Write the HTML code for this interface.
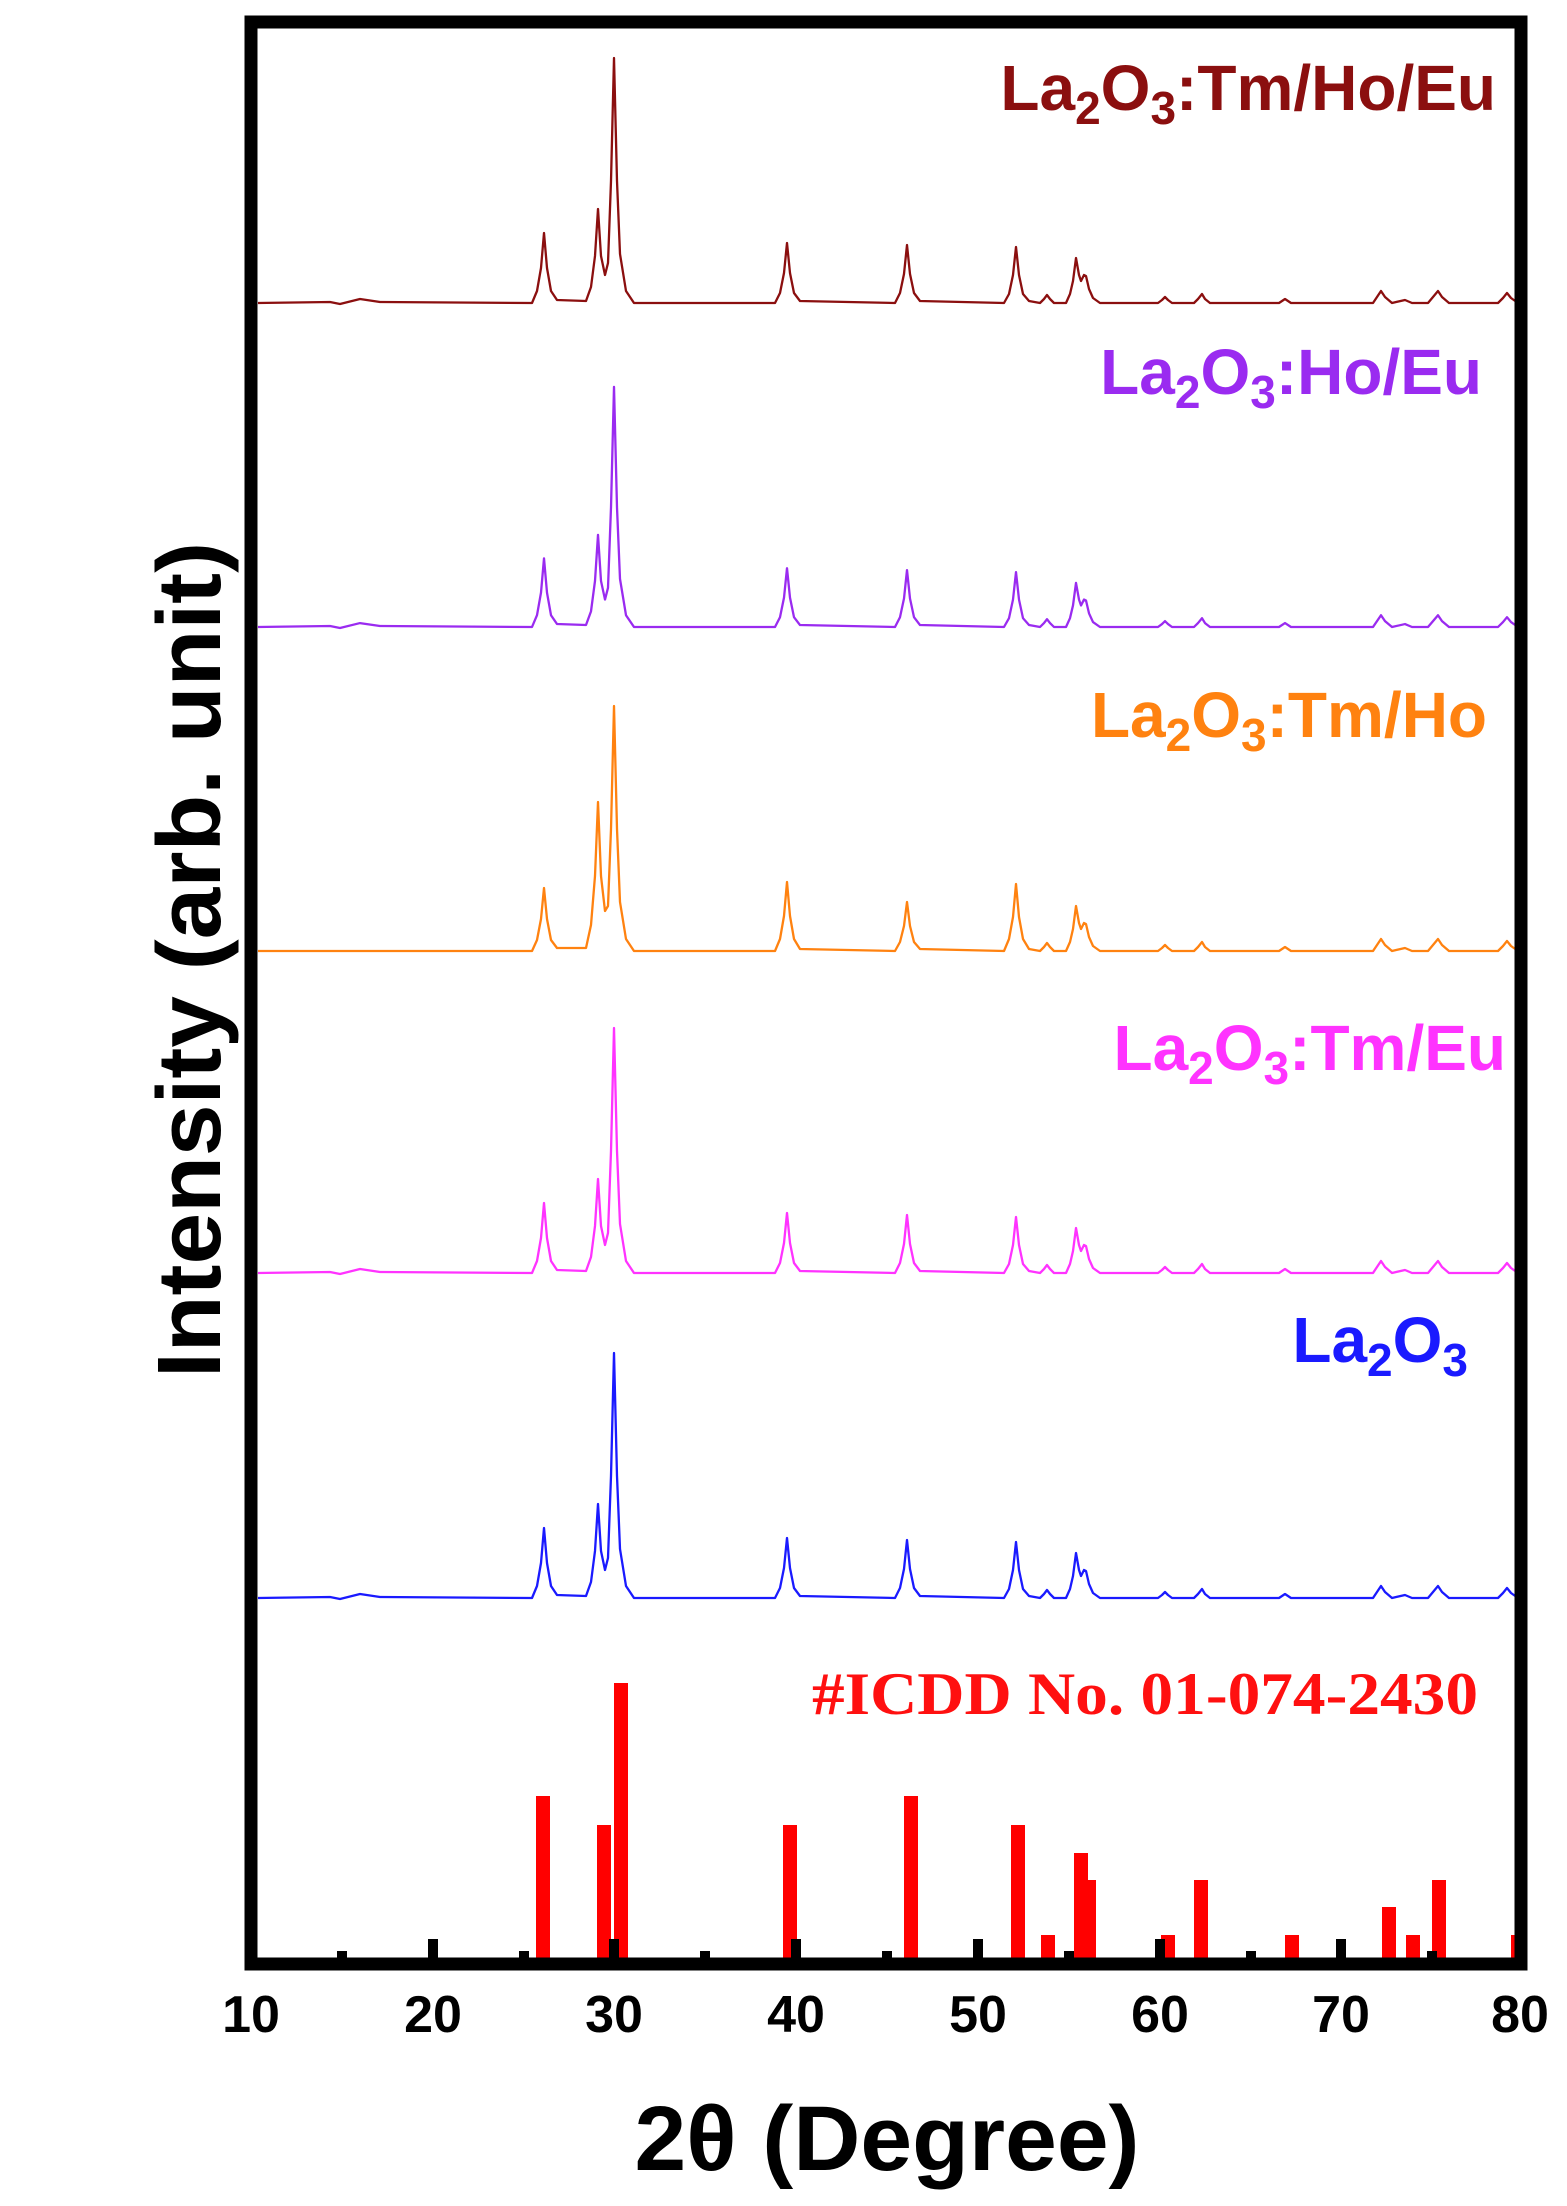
<!DOCTYPE html>
<html><head><meta charset="utf-8"><style>
html,body{margin:0;padding:0;background:#fff;}
svg{display:block;}
</style></head><body>
<svg width="1567" height="2206" viewBox="0 0 1567 2206" xmlns="http://www.w3.org/2000/svg">
<rect width="1567" height="2206" fill="#fff"/>
<defs>
<path id="pA" fill="none" stroke-width="2.3" stroke-linejoin="round" d="M258,0 L330,-1 L340,1 L360,-4 L380,-1 L532,0 L537,-12 L541,-35 L544,-70 L547,-35 L551,-12 L557,-3 L586,-2 L591,-16 L595,-47 L598,-94 L601,-47 L605,-28 L608,-40 L611,-122 L614,-245 L617,-122 L620,-49 L626,-12 L634,0 L775,0 L780,-10 L784,-30 L787,-60 L790,-30 L794,-10 L800,-2 L895,0 L900,-10 L904,-29 L907,-58 L910,-29 L914,-10 L920,-2 L1004,0 L1009,-9 L1013,-28 L1016,-56 L1019,-28 L1023,-9 L1029,-2 L1040,0 L1044,-4 L1047,-8 L1050,-4 L1054,0 L1066,0 L1070,-9 L1073,-22 L1076,-45 L1079,-28 L1081,-22 L1084,-28 L1086,-27 L1089,-14 L1093,-5 L1100,0 L1158,0 L1162,-3 L1165,-6 L1168,-3 L1172,0 L1194,0 L1198,-4 L1202,-9 L1205,-4 L1210,0 L1279,0 L1285,-4 L1291,0 L1373,0 L1377,-6 L1381,-12 L1385,-6 L1392,0 L1405,-3 L1412,0 L1428,0 L1433,-6 L1438,-12 L1442,-6 L1449,0 L1498,0 L1503,-5 L1507,-10 L1511,-5 L1518,0"/>
<path id="pB" fill="none" stroke-width="2.3" stroke-linejoin="round" d="M258,0 L532,0 L537,-11 L541,-32 L544,-63 L547,-32 L551,-11 L557,-3 L586,-3 L591,-26 L595,-75 L598,-149 L601,-75 L605,-40 L608,-45 L611,-122 L614,-245 L617,-122 L620,-49 L626,-12 L634,0 L775,0 L780,-12 L784,-35 L787,-69 L790,-35 L794,-12 L800,-2 L895,0 L900,-9 L904,-25 L907,-49 L910,-25 L914,-9 L920,-2 L1004,0 L1009,-12 L1013,-34 L1016,-67 L1019,-34 L1023,-12 L1029,-2 L1040,0 L1044,-4 L1047,-8 L1050,-4 L1054,0 L1066,0 L1070,-9 L1073,-22 L1076,-45 L1079,-28 L1081,-22 L1084,-28 L1086,-27 L1089,-14 L1093,-5 L1100,0 L1158,0 L1162,-3 L1165,-6 L1168,-3 L1172,0 L1194,0 L1198,-4 L1202,-9 L1205,-4 L1210,0 L1279,0 L1285,-4 L1291,0 L1373,0 L1377,-6 L1381,-12 L1385,-6 L1392,0 L1405,-3 L1412,0 L1428,0 L1433,-6 L1438,-12 L1442,-6 L1449,0 L1498,0 L1503,-5 L1507,-10 L1511,-5 L1518,0"/>
</defs>
<use href="#pA" transform="translate(0,303)" stroke="#8b0f0f"/>
<use href="#pA" transform="translate(0,627) scale(1,0.98)" stroke="#9a2bf0"/>
<use href="#pB" transform="translate(0,951)" stroke="#ff8210"/>
<use href="#pA" transform="translate(0,1273)" stroke="#ff33ff"/>
<use href="#pA" transform="translate(0,1598)" stroke="#1a1aff"/>
<g fill="#ff0000">
<rect x="536" y="1796" width="14" height="162"/>
<rect x="597" y="1825" width="14" height="133"/>
<rect x="614" y="1683" width="14" height="275"/>
<rect x="783" y="1825" width="14" height="133"/>
<rect x="904" y="1796" width="14" height="162"/>
<rect x="1011" y="1825" width="14" height="133"/>
<rect x="1041" y="1935" width="14" height="23"/>
<rect x="1074" y="1853" width="14" height="105"/>
<rect x="1082" y="1880" width="14" height="78"/>
<rect x="1161" y="1935" width="14" height="23"/>
<rect x="1194" y="1880" width="14" height="78"/>
<rect x="1285" y="1935" width="14" height="23"/>
<rect x="1382" y="1907" width="14" height="51"/>
<rect x="1406" y="1935" width="14" height="23"/>
<rect x="1432" y="1880" width="14" height="78"/>
<rect x="1511" y="1935" width="14" height="23"/>
</g>
<g fill="#000">
<rect x="428" y="1939" width="10" height="20"/><rect x="609" y="1939" width="10" height="20"/>
<rect x="791" y="1939" width="10" height="20"/><rect x="973" y="1939" width="10" height="20"/>
<rect x="1155" y="1939" width="10" height="20"/><rect x="1336" y="1939" width="10" height="20"/>
<rect x="337" y="1951" width="10" height="8"/><rect x="519" y="1951" width="10" height="8"/>
<rect x="700" y="1951" width="10" height="8"/><rect x="882" y="1951" width="10" height="8"/>
<rect x="1064" y="1951" width="10" height="8"/><rect x="1246" y="1951" width="10" height="8"/>
<rect x="1427" y="1951" width="10" height="8"/>
</g>
<rect x="251" y="22" width="1270" height="1942" fill="none" stroke="#000" stroke-width="13"/>
<g font-family="Liberation Sans, Arial, sans-serif" font-weight="bold" font-size="52" fill="#000" text-anchor="middle">
<text x="251" y="2032">10</text><text x="433" y="2032">20</text><text x="614" y="2032">30</text>
<text x="796" y="2032">40</text><text x="978" y="2032">50</text><text x="1160" y="2032">60</text>
<text x="1341" y="2032">70</text><text x="1520" y="2032">80</text>
</g>
<text x="887" y="2170" font-family="Liberation Sans, Arial, sans-serif" font-weight="bold" font-size="92" text-anchor="middle" textLength="505" lengthAdjust="spacingAndGlyphs">2θ (Degree)</text>
<text transform="translate(220,960) rotate(-90)" font-family="Liberation Sans, Arial, sans-serif" font-weight="bold" font-size="90" text-anchor="middle" textLength="836" lengthAdjust="spacingAndGlyphs">Intensity (arb. unit)</text>
<g font-family="Liberation Sans, Arial, sans-serif" font-weight="bold" font-size="64" text-anchor="end">
<text x="1496" y="110" fill="#8b0f0f">La<tspan font-size="46" dy="14">2</tspan><tspan dy="-14">O</tspan><tspan font-size="46" dy="14">3</tspan><tspan dy="-14">:Tm/Ho/Eu</tspan></text>
<text x="1482" y="394" fill="#9a2bf0">La<tspan font-size="46" dy="14">2</tspan><tspan dy="-14">O</tspan><tspan font-size="46" dy="14">3</tspan><tspan dy="-14">:Ho/Eu</tspan></text>
<text x="1487" y="737" fill="#ff8210">La<tspan font-size="46" dy="14">2</tspan><tspan dy="-14">O</tspan><tspan font-size="46" dy="14">3</tspan><tspan dy="-14">:Tm/Ho</tspan></text>
<text x="1506" y="1070" fill="#ff33ff">La<tspan font-size="46" dy="14">2</tspan><tspan dy="-14">O</tspan><tspan font-size="46" dy="14">3</tspan><tspan dy="-14">:Tm/Eu</tspan></text>
<text x="1468" y="1362" fill="#1a1aff">La<tspan font-size="46" dy="14">2</tspan><tspan dy="-14">O</tspan><tspan font-size="46" dy="14">3</tspan></text>
</g>
<text x="1478" y="1714" font-family="Liberation Serif, Times New Roman, serif" font-weight="bold" font-size="60" fill="#ff1010" text-anchor="end" textLength="666" lengthAdjust="spacingAndGlyphs">#ICDD No. 01-074-2430</text>
</svg>
</body></html>
